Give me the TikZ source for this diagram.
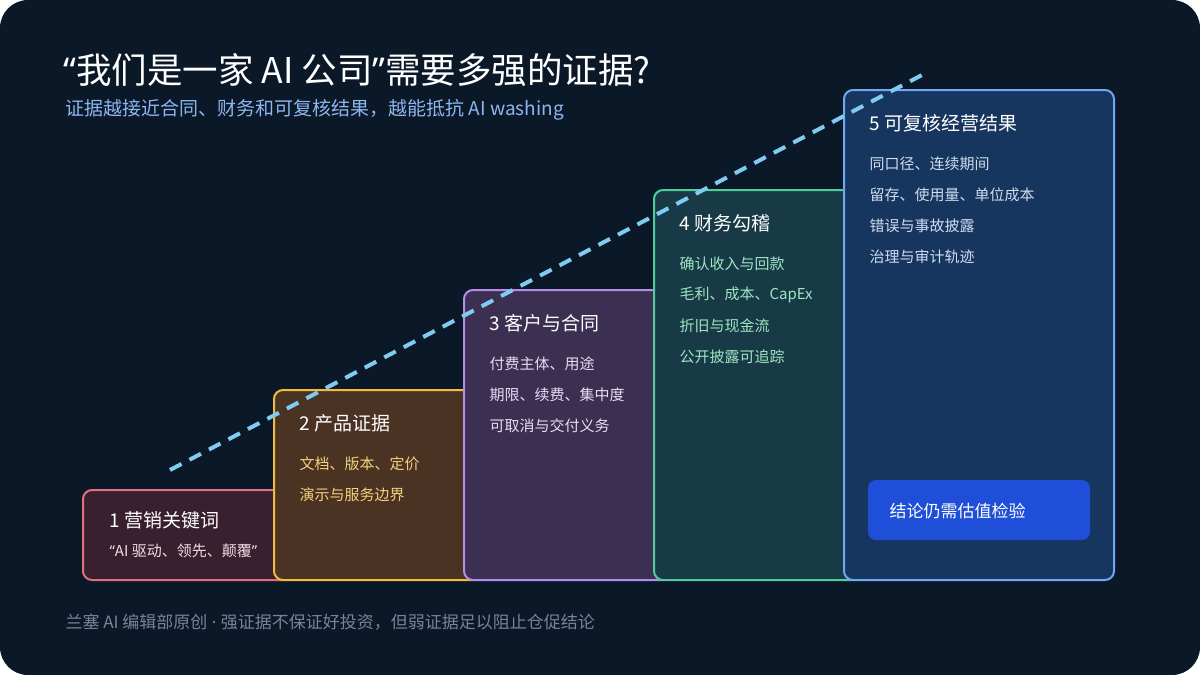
\documentclass[tikz,border=0pt]{standalone}
\usepackage{fontspec}
\setmainfont{Noto Sans CJK SC}
\newfontfamily\lat{Noto Sans}
\definecolor{bg}{HTML}{0B1828}
\definecolor{subc}{HTML}{8DB6EE}
\definecolor{footc}{HTML}{77839A}
\definecolor{b1d}{HTML}{E0707E}\definecolor{b1f}{HTML}{3A1F2E}\definecolor{b1t}{HTML}{F3DCE0}
\definecolor{b2d}{HTML}{F2BB3C}\definecolor{b2f}{HTML}{4A3322}\definecolor{b2t}{HTML}{F4D27C}
\definecolor{b3d}{HTML}{B58DE6}\definecolor{b3f}{HTML}{3B2F52}\definecolor{b3t}{HTML}{E6DDF3}
\definecolor{b4d}{HTML}{52CC9C}\definecolor{b4f}{HTML}{173A46}\definecolor{b4t}{HTML}{9FE6C2}
\definecolor{b5d}{HTML}{6EA8F2}\definecolor{b5f}{HTML}{17365F}\definecolor{b5t}{HTML}{CFDCEE}
\definecolor{btnc}{HTML}{1F4FD8}
\definecolor{dashc}{HTML}{7FCBF2}
\begin{document}
\begin{tikzpicture}[x=1pt,y=-1pt,
 box/.style={rounded corners=9pt,line width=2pt},
 ttl/.style={anchor=west,text=white,font=\fontsize{19}{22}\selectfont},
 itm/.style={anchor=west,font=\fontsize{15}{18}\selectfont}]
\useasboundingbox (0,0) rectangle (1200,675);
\fill[white] (0,0) rectangle (1200,675);
\fill[bg,rounded corners=28pt] (0,0) rectangle (1200,675);
\node[anchor=west,text=white,font=\fontsize{35.5}{40}\selectfont] (title) at (60,70) {{\lat “}我们是一家 AI 公司{\lat ”}需要多强的证据?};
\node[anchor=west,text=subc,font=\fontsize{19}{22}\selectfont] (sub) at (62,110) {证据越接近合同、财务和可复核结果，越能抵抗 AI washing};
\node[anchor=west,text=footc,font=\fontsize{17}{20}\selectfont] (foot) at (62,622) {兰塞 AI 编辑部原创{\lat\ ·\ }强证据不保证好投资，但弱证据足以阻止仓促结论};
\draw[box,draw=b1d,fill=b1f] (83,490) rectangle (292,580);
\node[ttl] (t1) at (106,520) {1 营销关键词};
\node[itm,text=b1t] (i1) at (106,551) {{\lat “}AI 驱动、领先、颠覆{\lat ”}};
\draw[box,draw=b2d,fill=b2f] (274,390) rectangle (482,580);
\node[ttl] (t2) at (296,423) {2 产品证据};
\node[itm,text=b2t] (i21) at (296,464) {文档、版本、定价};
\node[itm,text=b2t] (i22) at (296,495) {演示与服务边界};
\draw[box,draw=b3d,fill=b3f] (464,290) rectangle (672,580);
\node[ttl] (t3) at (486,323) {3 客户与合同};
\node[itm,text=b3t] (i31) at (486,364) {付费主体、用途};
\node[itm,text=b3t] (i32) at (486,395) {期限、续费、集中度};
\node[itm,text=b3t] (i33) at (486,426) {可取消与交付义务};
\draw[box,draw=b4d,fill=b4f] (654,190) rectangle (862,580);
\node[ttl] (t4) at (676,223) {4 财务勾稽};
\node[itm,text=b4t] (i41) at (676,264) {确认收入与回款};
\node[itm,text=b4t] (i42) at (676,295) {毛利、成本、CapEx};
\node[itm,text=b4t] (i43) at (676,326) {折旧与现金流};
\node[itm,text=b4t] (i44) at (676,357) {公开披露可追踪};
\draw[box,draw=b5d,fill=b5f] (844,90) rectangle (1114,580);
\node[ttl] (t5) at (866,123) {5 可复核经营结果};
\node[itm,text=b5t] (i51) at (866,164) {同口径、连续期间};
\node[itm,text=b5t] (i52) at (866,195) {留存、使用量、单位成本};
\node[itm,text=b5t] (i53) at (866,226) {错误与事故披露};
\node[itm,text=b5t] (i54) at (866,257) {治理与审计轨迹};
\fill[btnc,rounded corners=8pt] (868,480) rectangle (1090,540);
\node[anchor=west,text=white,font=\fontsize{17}{20}\selectfont] (btn) at (886,511) {结论仍需估值检验};
\coordinate (d1) at (170,470);
\coordinate (d2) at (922,75);
\draw[dashc,line width=4pt,dash pattern=on 13pt off 9pt] (d1) -- (d2);
\end{tikzpicture}
\end{document}
